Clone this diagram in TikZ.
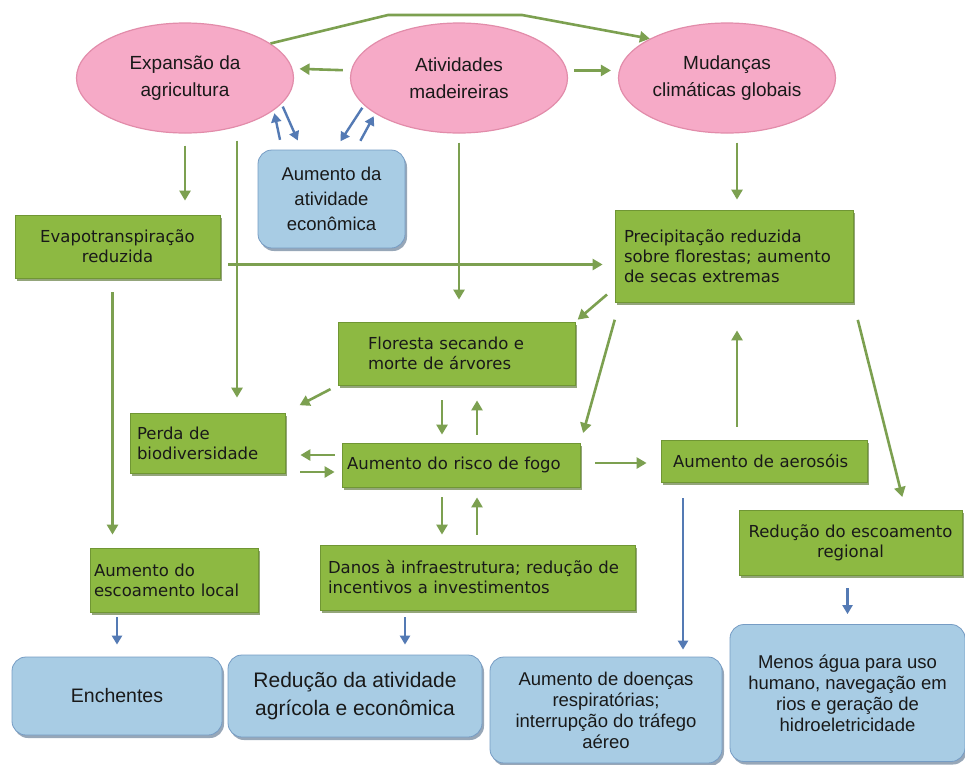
\documentclass[tikz,border=0pt]{standalone}
\usepackage{fontspec}
\setmainfont{Liberation Sans}
\newfontfamily\boxfont{DejaVu Sans}
\usetikzlibrary{arrows.meta,shapes.geometric,shadows}
\definecolor{ellpink}{RGB}{246,170,199}
\definecolor{ellrim}{RGB}{226,140,170}
\definecolor{boxgreen}{RGB}{141,185,66}
\definecolor{boxrim}{RGB}{112,150,52}
\definecolor{arrgreen}{RGB}{124,160,80}
\definecolor{boxblue}{RGB}{168,204,228}
\definecolor{bluerim}{RGB}{118,156,196}
\definecolor{arrblue}{RGB}{84,122,180}
\definecolor{inktext}{RGB}{25,25,25}

\begin{document}
\begin{tikzpicture}[x=1pt,y=-1pt,
  ell/.style={ellipse,draw=ellrim,line width=1.2pt,fill=ellpink,minimum width=217pt,minimum height=110pt,
    align=center,inner sep=0pt,text=inktext,font=\fontsize{19}{27}\selectfont},
  gbox/.style={rectangle,draw=boxrim,line width=0.8pt,fill=boxgreen,inner sep=0pt,text=inktext,
    font=\boxfont\fontsize{16.5}{20}\selectfont,
    drop shadow={shadow xshift=1.5pt,shadow yshift=-2.5pt,fill=boxrim!70!black,opacity=0.6}},
  bbox/.style={rectangle,rounded corners=14pt,draw=bluerim,line width=0.8pt,fill=boxblue,inner sep=0pt,
    align=center,text=inktext,
    drop shadow={shadow xshift=2pt,shadow yshift=-3pt,fill=bluerim!70!black,opacity=0.6}},
  garr/.style={draw=arrgreen,line width=2.6pt,-{Triangle[length=10pt,width=11pt]}},
  barr/.style={draw=arrblue,line width=2.4pt,-{Triangle[length=9pt,width=10pt]}}]
\fill[white] (0,0) rectangle (965,764);
\useasboundingbox (0,0) rectangle (965,764);

% causes
\node[ell] (agr) at (185,78) {Expansão da\\agricultura};
\node[ell] (mad) at (459,78) {Atividades\\madeireiras};
\node[ell] (clim) at (727,78) {Mudanças\\climáticas globais};
\node[bbox,minimum width=147pt,minimum height=98pt,font=\fontsize{18.5}{25}\selectfont] (econ) at (331.5,199)
  {Aumento da\\atividade\\econômica};

% effects
\node[gbox,minimum width=205pt,minimum height=63pt,text width=195pt,align=center] (evap) at (117.5,246.5)
  {Evapotranspiração\\reduzida};
\node[gbox,minimum width=238pt,minimum height=92pt,text width=220pt,align=left] (prec) at (734,256)
  {Precipitação reduzida\\sobre florestas; aumento\\de secas extremas};
\node[gbox,minimum width=237pt,minimum height=63pt,text width=177pt,align=left] (flor) at (456.5,353.5)
  {Floresta secando e\\morte de árvores};
\node[gbox,minimum width=155pt,minimum height=60pt,text width=141pt,align=left] (perda) at (207.5,443)
  {Perda de\\biodiversidade};
\node[gbox,minimum width=238pt,minimum height=44pt,text width=228pt,align=left] (fogo) at (461,465)
  {Aumento do risco de fogo};
\node[gbox,minimum width=206pt,minimum height=42pt,text width=182pt,align=left] (aer) at (764,461)
  {Aumento de aerosóis};
\node[gbox,minimum width=223pt,minimum height=65pt,text width=217pt,align=center] (redesc) at (850.5,542.5)
  {Redução do escoamento\\regional};
\node[gbox,minimum width=168pt,minimum height=64pt,text width=160pt,align=left] (escloc) at (174,580)
  {Aumento do\\escoamento local};
\node[gbox,minimum width=315pt,minimum height=65pt,text width=299pt,align=left] (danos) at (477.5,577.5)
  {Danos à infraestrutura; redução de\\incentivos a investimentos};

% outcomes
\node[bbox,minimum width=210pt,minimum height=78pt,font=\fontsize{19.5}{24}\selectfont] (ench) at (117,696)
  {Enchentes};
\node[bbox,minimum width=254pt,minimum height=82pt,font=\fontsize{21}{28}\selectfont] (redag) at (355,696)
  {Redução da atividade\\agrícola e econômica};
\node[bbox,minimum width=232pt,minimum height=106pt,font=\fontsize{18.5}{21}\selectfont] (doen) at (606,710)
  {Aumento de doenças\\respiratórias;\\interrupção do tráfego\\aéreo};
\node[bbox,minimum width=235pt,minimum height=137pt,font=\fontsize{18.5}{21}\selectfont] (menos) at (847.5,693)
  {Menos água para uso\\humano, navegação em\\rios e geração de\\hidroeletricidade};

% top row
\coordinate (k1) at (388,15);
\coordinate (k2) at (522,15);
\draw[garr,-] (agr.22) -- (k1) -- (k2);
\draw[garr] (k2) -- (clim.153);
\draw[garr,shorten <=8pt,shorten >=7pt] (mad.176) -- (agr.5);
\draw[garr,shorten <=7pt,shorten >=8pt] (mad.4) -- (clim.176);
\draw[barr,shorten <=10pt,shorten >=3pt] (econ.135) -- (agr.-20);
\draw[barr,shorten <=3pt,shorten >=10pt] (agr.-15) -- (econ.121);
\draw[barr,shorten <=3pt,shorten >=10pt] (mad.196) -- (econ.86);
\draw[barr,shorten <=10pt,shorten >=3pt] (econ.64) -- (mad.203);

% green links
\draw[garr,shorten <=12pt,shorten >=14pt] (agr.south) -- (agr.south |- evap.north);
\draw[garr,shorten <=7pt,shorten >=15pt] ([xshift=52pt]agr.south) -- ([xshift=52pt]agr.south |- perda.north);
\draw[garr,shorten <=9pt,shorten >=22pt] (mad.south) -- (mad.south |- flor.north);
\draw[garr,shorten <=9pt,shorten >=10pt] ([xshift=10pt]clim.south) -- ([xshift=10pt]clim.south |- prec.north);
\draw[garr,shorten <=8pt,shorten >=12pt] ([yshift=-18pt]evap.east) -- ([yshift=-18pt]evap.east -| prec.west);
\draw[garr,shorten <=14pt,shorten >=13pt] ([xshift=-5pt]evap.south) -- ([xshift=-5pt]evap.south |- escloc.north);
\draw[garr,shorten <=10pt,shorten >=3pt] ([yshift=-32pt]prec.west) -- (flor.north east);
\draw[garr,shorten <=18pt,shorten >=10pt] ([xshift=5pt]prec.south west) -- (fogo.north east);
\draw[garr,shorten <=18pt,shorten >=13pt] (prec.south east) -- ([xshift=55pt]redesc.north);
\draw[garr,shorten <=13pt,shorten >=28pt] ([xshift=-27pt]aer.north) -- ([xshift=-27pt]aer.north |- prec.south);
\draw[garr,shorten <=15pt,shorten >=14pt] ([yshift=2pt]fogo.east) -- ([yshift=2pt]fogo.east -| aer.west);
\draw[garr,shorten <=8pt,shorten >=16pt] (flor.south west) -- (perda.north east);
\draw[garr,shorten <=7pt,shorten >=15pt] ([yshift=10pt]fogo.west) -- ([yshift=10pt]fogo.west -| perda.east);
\draw[garr,shorten <=15pt,shorten >=7pt] ([yshift=-7pt]fogo.west -| perda.east) -- ([yshift=-7pt]fogo.west);
\draw[garr,shorten <=15pt,shorten >=8pt] ([xshift=-19pt]fogo.north |- flor.south) -- ([xshift=-19pt]fogo.north);
\draw[garr,shorten <=8pt,shorten >=15pt] ([xshift=16pt]fogo.north) -- ([xshift=16pt]fogo.north |- flor.south);
\draw[garr,shorten <=10pt,shorten >=10pt] ([xshift=-19pt]fogo.south) -- ([xshift=-19pt]fogo.south |- danos.north);
\draw[garr,shorten <=10pt,shorten >=10pt] ([xshift=16pt]fogo.south |- danos.north) -- ([xshift=16pt]fogo.south);

% blue links
\draw[barr,shorten <=5pt,shorten >=12pt] (ench.north |- escloc.south) -- (ench.north);
\draw[barr,shorten <=7pt,shorten >=10pt] ([xshift=50pt]redag.north |- danos.south) -- ([xshift=50pt]redag.north);
\draw[barr,shorten <=16pt,shorten >=7pt] ([xshift=-81pt]aer.south) -- ([xshift=-81pt]aer.south |- doen.north);
\draw[barr,shorten <=13pt,shorten >=10pt] (menos.north |- redesc.south) -- (menos.north);
\end{tikzpicture}
\end{document}
